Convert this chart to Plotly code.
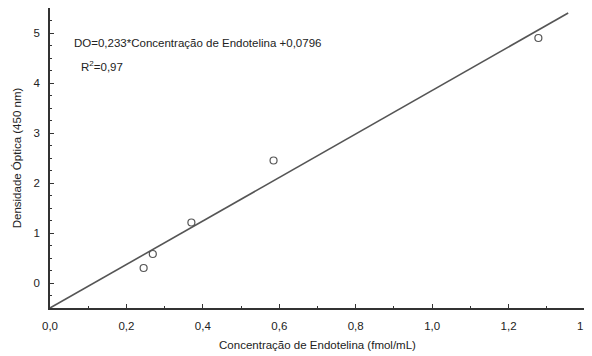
import plotly.graph_objects as go

# Data
conc = [0.245, 0.269, 0.370, 0.585, 1.278]
do_vals = [0.30, 0.58, 1.21, 2.45, 4.90]
fit_x = [0.0, 1.356]
fit_y = [-0.5, 5.40]
x_ticks = [0.0, 0.2, 0.4, 0.6, 0.8, 1.0, 1.2, 1.4]
y_ticks = [0, 1, 2, 3, 4, 5]

FONT = "Liberation Sans, Arial, sans-serif"
GREY = "#555555"

fig = go.Figure()
fig.add_trace(go.Scatter(x=fit_x, y=fit_y, mode="lines",
                         line=dict(color=GREY, width=1.6), hoverinfo="skip",
                         cliponaxis=False))
fig.add_trace(go.Scatter(x=conc, y=do_vals, mode="markers",
                         marker=dict(symbol="circle-open", size=7,
                                     color=GREY, line=dict(width=1.2, color=GREY))))

fig.add_annotation(x=0, y=1, xref="paper", yref="paper", showarrow=False,
                   text="DO=0,233*Concentração de Endotelina +0,0796",
                   xanchor="left", yanchor="middle", xshift=22, yshift=-35,
                   font=dict(family=FONT, size=11.5, color="#222222"))
fig.add_annotation(x=0, y=1, xref="paper", yref="paper", showarrow=False,
                   text="R<sup>2</sup>=0,97",
                   xanchor="left", yanchor="middle", xshift=29, yshift=-58,
                   font=dict(family=FONT, size=11.5, color="#222222"))

fig.update_layout(
    width=584, height=348,
    margin=dict(l=41.5, r=6.5, t=0, b=48, autoexpand=False),
    paper_bgcolor="white", plot_bgcolor="white",
    showlegend=False,
    separators=",.",
    font=dict(family=FONT, size=11.5, color="#222222"),
    xaxis=dict(range=[0, 1.4], tickvals=x_ticks, tickformat=".1f",
               automargin=False, ticklabeloverflow="allow",
               showgrid=False, zeroline=False, showline=True,
               linecolor="#333333", linewidth=1.5,
               ticks="inside", ticklen=4, tickcolor="#333333",
               minor=dict(dtick=0.1, ticks="inside", ticklen=2, tickcolor="#333333"),
               title=dict(text="Concentração de Endotelina (fmol/mL)",
                          font=dict(size=11.5), standoff=10),
               ticklabelstandoff=6),
    yaxis=dict(range=[-0.5, 5.5], tickvals=y_ticks,
               automargin=False,
               showgrid=False, zeroline=False, showline=True,
               linecolor="#333333", linewidth=1.5,
               ticks="inside", ticklen=4, tickcolor="#333333",
               minor=dict(dtick=0.25, tick0=0, ticks="inside", ticklen=2, tickcolor="#333333"),
               title=dict(text="Densidade Óptica (450 nm)",
                          font=dict(size=11.5), standoff=10),
               ticklabelstandoff=6),
)

fig.write_html("out.html")
